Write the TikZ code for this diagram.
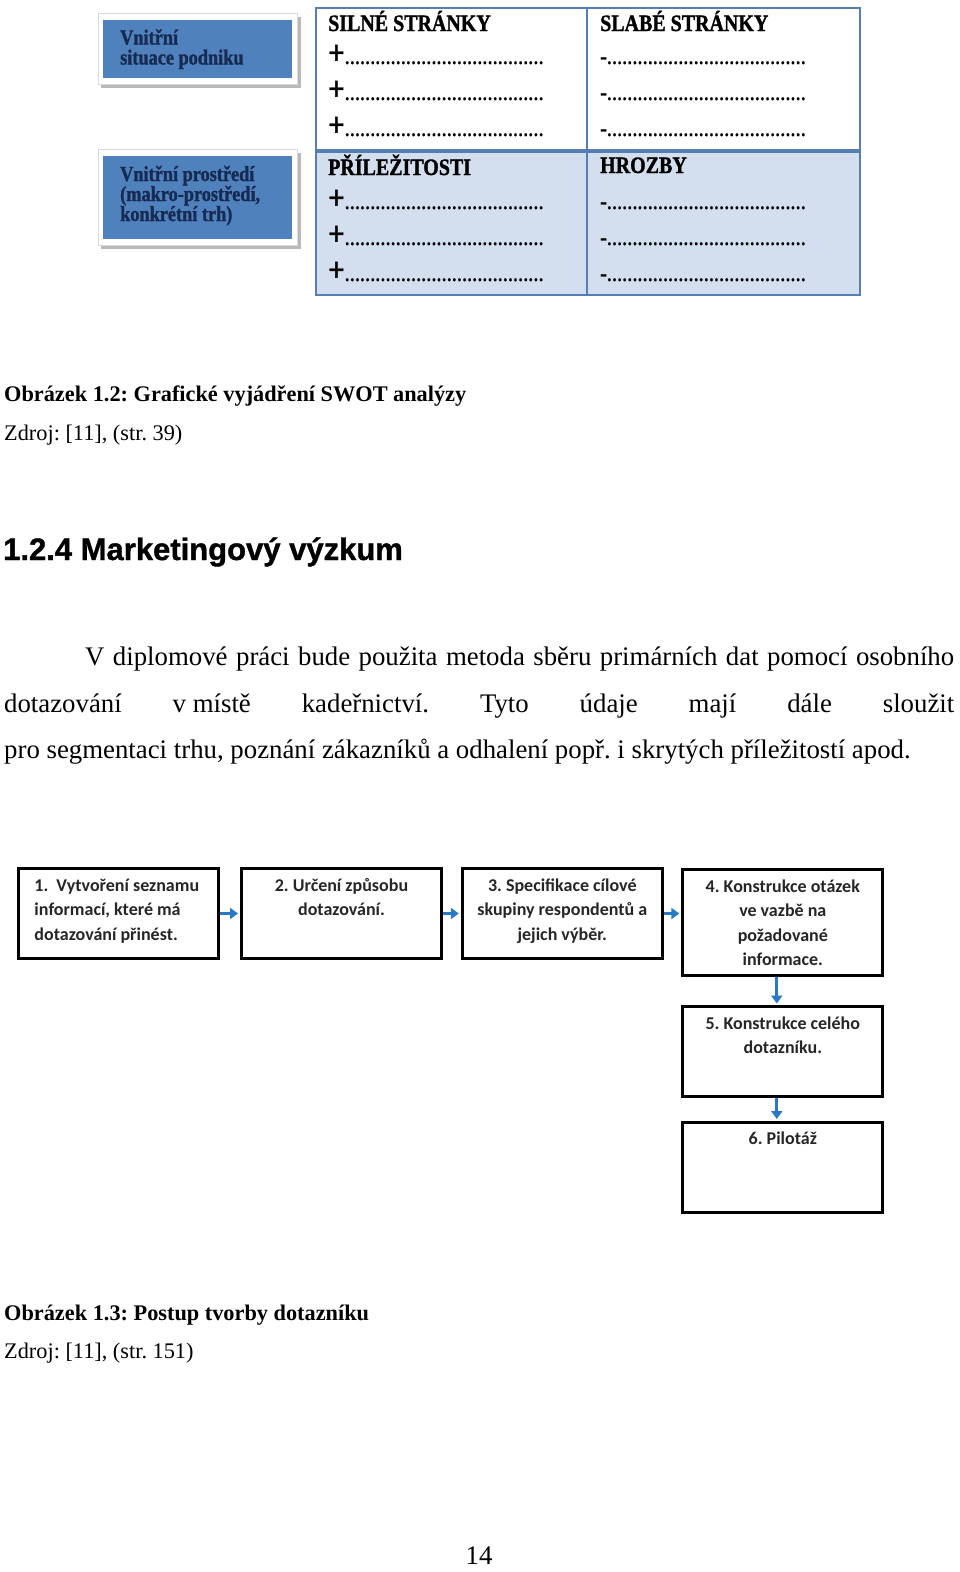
\documentclass[tikz,border=0pt]{standalone}
\usepackage{fontspec}
\setmainfont{Liberation Serif}
\newfontfamily\swotfont[FakeStretch=0.85,FakeBold=1.2]{Liberation Serif Bold}
\newfontfamily\headfont[FakeBold=1.2]{Liberation Sans Bold}
\newfontfamily\flowfont{Carlito}
\usetikzlibrary{arrows.meta,shadows}
\definecolor{swotblue}{RGB}{79,129,189}
\definecolor{swotline}{RGB}{84,126,180}
\definecolor{swotfill}{RGB}{211,223,238}
\definecolor{swotnavy}{RGB}{22,42,82}
\definecolor{flowarr}{RGB}{41,121,196}
\definecolor{flowtxt}{RGB}{38,38,38}
\frenchspacing
\tikzset{
  page/.style={x=1pt,y=-1pt},
  txt/.style={anchor=base west,inner sep=0pt},
  swothead/.style={txt,font=\swotfont\fontsize{23.5}{24}\selectfont},
  sidebox/.style={txt,align=left,text=swotnavy,font=\swotfont\fontsize{21.5}{20}\selectfont},
  flowbox/.style={draw,fill=white,line width=3pt,inner sep=0pt,text=flowtxt,
    font=\flowfont\bfseries\fontsize{18}{24.5}\selectfont,
    drop shadow={shadow xshift=1.2pt,shadow yshift=-1.2pt,opacity=0.3}},
  flowarrow/.style={flowarr,line width=3pt,-{Triangle[width=11pt,length=8pt]}},
}
\newcommand{\dotrow}{{\fontsize{18}{18}\selectfont …………………………………}}
\newcommand{\flowtext}[3]{\parbox[c][#2][t]{#1}{#3}}

\begin{document}
\begin{tikzpicture}[page]
    \useasboundingbox (0,0) rectangle (960,1572);
    \fill[white] (0,0) rectangle (960,1572);
    % side boxes of the SWOT picture
    \foreach \t/\b in {13/84,149/245} {
      \fill[gray!55] (101,{\t+4}) rectangle (301,{\b+4}); % shadow
      \filldraw[fill=white,draw=gray!30] (98,\t) rectangle (297,\b);
      \fill[swotblue] (103,{\t+6.5}) rectangle (292,{\b-6.5});
    }
    \node[sidebox] (inner) at (120,64.5) {Vnitřní\\situace podniku}; % base = last line
    \node[sidebox] (outer) at (120,221) {Vnitřní prostředí\\(makro-prostředí,\\konkrétní trh)};
    % SWOT table
    \fill[swotfill] (316,150) rectangle (860,295);
    \draw[swotline,line width=1.5pt] (316,8) rectangle (860,295);
    \draw[swotline,line width=1.5pt] (587,8) -- (587,295); % middle line
    \draw[swotline,line width=4pt] (316,150.5) -- (860,150.5); % thick divider
    \node[swothead] (s) at (328,31) {SILNÉ STRÁNKY};
    \node[swothead] (w) at (600,31) {SLABÉ STRÁNKY};
    \node[swothead] (o) at (328,175) {PŘÍLEŽITOSTI};
    \node[swothead] (t) at (600,173) {HROZBY};
    \foreach \y in {64,100,136,209,245,281} {
      \node[swothead] (p\y) at (328,\y) {{\fontsize{34}{34}\selectfont+}\dotrow};
      \node[swothead] (m\y) at (600,\y) {-\dotrow};
    }
    % captions and text
    \node[txt,font=\bfseries\fontsize{22.3}{24}\selectfont] (cap1) at (4,401.5)
      {Obrázek 1.2: Grafické vyjádření SWOT analýzy};
    \node[txt,font=\fontsize{22.3}{24}\selectfont] (src1) at (4,440) {Zdroj: [11], (str. 39)};
    \node[txt,font=\headfont\fontsize{31}{34}\selectfont] (sec) at (3,560)
      {1.2.4 Marketingový výzkum};
    \node[txt,font=\fontsize{26.8}{30}\selectfont] (l1) at (85,665.5)
      {\makebox[869pt][s]{V diplomové práci bude použita metoda sběru primárních dat pomocí osobního}};
    \node[txt,font=\fontsize{26.8}{30}\selectfont] (l2) at (4,712)
      {\makebox[950pt][s]{dotazování \mbox{v místě} kadeřnictví. Tyto údaje mají dále sloužit}};
    \node[txt,font=\fontsize{26.8}{30}\selectfont] (l3) at (4,758.5)
      {pro segmentaci trhu, poznání zákazníků a odhalení popř. i skrytých příležitostí apod.};
    % questionnaire steps
    \node[flowbox] (b1) at (118.5,913.5) {\flowtext{200pt}{90pt}{\raggedright\leftskip=16pt
      \rule{0pt}{22.5pt}1.\hspace{8pt}Vytvoření seznamu\\informací, které má\\dotazování přinést.}};
    \node[flowbox] (b2) at (341.5,913.5) {\flowtext{200pt}{90pt}{\centering
      \rule{0pt}{22.5pt}2. Určení způsobu\\dotazování.}};
    \node[flowbox] (b3) at (562.3,913.5) {\flowtext{200pt}{90pt}{\centering
      \rule{0pt}{22.5pt}3. Specifikace cílové\\skupiny respondentů a\\jejich výběr.}};
    \node[flowbox] (b4) at (782.8,922.5) {\flowtext{200pt}{106pt}{\centering
      \rule{0pt}{22.5pt}4. Konstrukce otázek\\ve vazbě na\\požadované\\informace.}};
    \node[flowbox] (b5) at (782.8,1051.5) {\flowtext{200pt}{90pt}{\centering
      \rule{0pt}{22.5pt}5. Konstrukce celého\\dotazníku.}};
    \node[flowbox] (b6) at (782.8,1167) {\flowtext{200pt}{90pt}{\centering
      \rule{0pt}{22.5pt}6. Pilotáž}};
    \draw[flowarrow,shorten >=2pt] (b1) -- (b2);
    \draw[flowarrow,shorten >=2pt] (b2) -- (b3);
    \draw[flowarrow,shorten >=2pt] (b3.east) -- (b3.east -| b4.west);
    \draw[flowarrow,shorten >=1.5pt] ([xshift=-6pt]b4.south) -- ([xshift=-6pt]b5.north);
    \draw[flowarrow,shorten >=1.5pt] ([xshift=-6pt]b5.south) -- ([xshift=-6pt]b6.north);
    \node[txt,font=\bfseries\fontsize{22.3}{24}\selectfont] (cap2) at (4,1320)
      {Obrázek 1.3: Postup tvorby dotazníku};
    \node[txt,font=\fontsize{22.3}{24}\selectfont] (src2) at (4,1358.5) {Zdroj: [11], (str. 151)};
    \node[inner sep=0pt,anchor=base,font=\fontsize{26.8}{30}\selectfont] (pg) at (479,1564) {14};
\end{tikzpicture}
\end{document}
